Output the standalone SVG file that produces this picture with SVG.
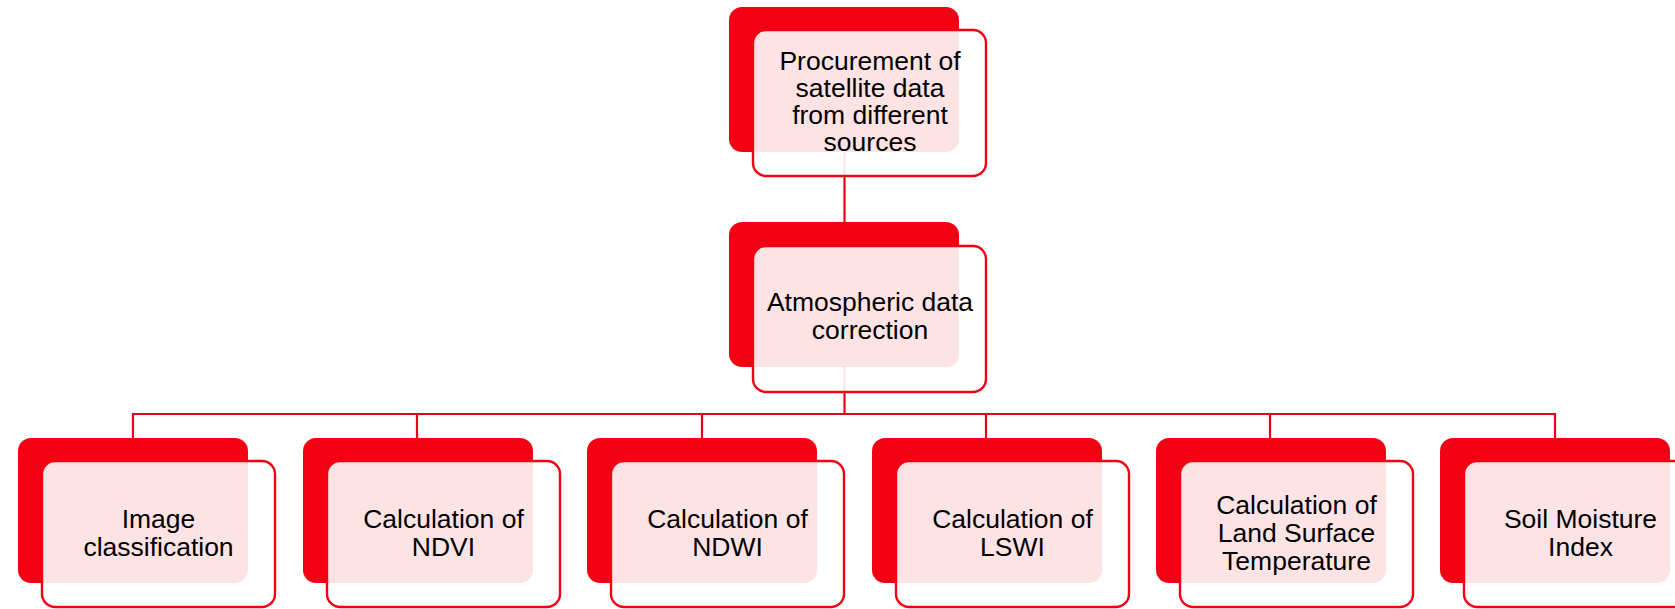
<svg xmlns="http://www.w3.org/2000/svg" width="1675" height="609" viewBox="0 0 1675 609">
<style>
.back{fill:#f40014;}
.front{fill:#ffffff;fill-opacity:0.89;stroke:#f40014;stroke-width:2.4;}
.conn{stroke:#e8001a;stroke-width:2.2;fill:none;}
text{font-family:"Liberation Sans",Arial,sans-serif;font-size:26.5px;fill:#000;text-anchor:middle;}
</style>
<rect width="1675" height="609" fill="#ffffff"/>
<g id="connectors">
<line class="conn" x1="844.5" y1="150" x2="844.5" y2="222"/>
<line class="conn" x1="844.5" y1="366" x2="844.5" y2="414"/>
<polyline class="conn" points="133,438 133,414 1555,414 1555,438"/>
<line class="conn" x1="417" y1="414" x2="417" y2="438"/>
<line class="conn" x1="702" y1="414" x2="702" y2="438"/>
<line class="conn" x1="986" y1="414" x2="986" y2="438"/>
<line class="conn" x1="1270" y1="414" x2="1270" y2="438"/>
</g>
<g id="node-procurement">
<rect class="back" x="729" y="7" width="230" height="145" rx="13"/>
<rect class="front" x="753" y="30" width="233" height="146" rx="13"/>
<text x="870" y="70">Procurement of</text>
<text x="870" y="97">satellite data</text>
<text x="870" y="124">from different</text>
<text x="870" y="151">sources</text>
</g>
<g id="node-atmospheric">
<rect class="back" x="729" y="222" width="230" height="145" rx="13"/>
<rect class="front" x="753" y="246" width="233" height="146" rx="13"/>
<text x="870" y="311">Atmospheric data</text>
<text x="870" y="339">correction</text>
</g>
<g id="node-image">
<rect class="back" x="18" y="438" width="230" height="145" rx="13"/>
<rect class="front" x="42" y="461" width="233" height="146" rx="13"/>
<text x="158.5" y="528">Image</text>
<text x="158.5" y="556">classification</text>
</g>
<g id="node-ndvi">
<rect class="back" x="303" y="438" width="230" height="145" rx="13"/>
<rect class="front" x="327" y="461" width="233" height="146" rx="13"/>
<text x="443.5" y="528">Calculation of</text>
<text x="443.5" y="556">NDVI</text>
</g>
<g id="node-ndwi">
<rect class="back" x="587" y="438" width="230" height="145" rx="13"/>
<rect class="front" x="611" y="461" width="233" height="146" rx="13"/>
<text x="727.5" y="528">Calculation of</text>
<text x="727.5" y="556">NDWI</text>
</g>
<g id="node-lswi">
<rect class="back" x="872" y="438" width="230" height="145" rx="13"/>
<rect class="front" x="896" y="461" width="233" height="146" rx="13"/>
<text x="1012.5" y="528">Calculation of</text>
<text x="1012.5" y="556">LSWI</text>
</g>
<g id="node-lst">
<rect class="back" x="1156" y="438" width="230" height="145" rx="13"/>
<rect class="front" x="1180" y="461" width="233" height="146" rx="13"/>
<text x="1296.5" y="514">Calculation of</text>
<text x="1296.5" y="542">Land Surface</text>
<text x="1296.5" y="570">Temperature</text>
</g>
<g id="node-soil">
<rect class="back" x="1440" y="438" width="230" height="145" rx="13"/>
<rect class="front" x="1464" y="461" width="233" height="146" rx="13"/>
<text x="1580.5" y="528">Soil Moisture</text>
<text x="1580.5" y="556">Index</text>
</g>
</svg>
